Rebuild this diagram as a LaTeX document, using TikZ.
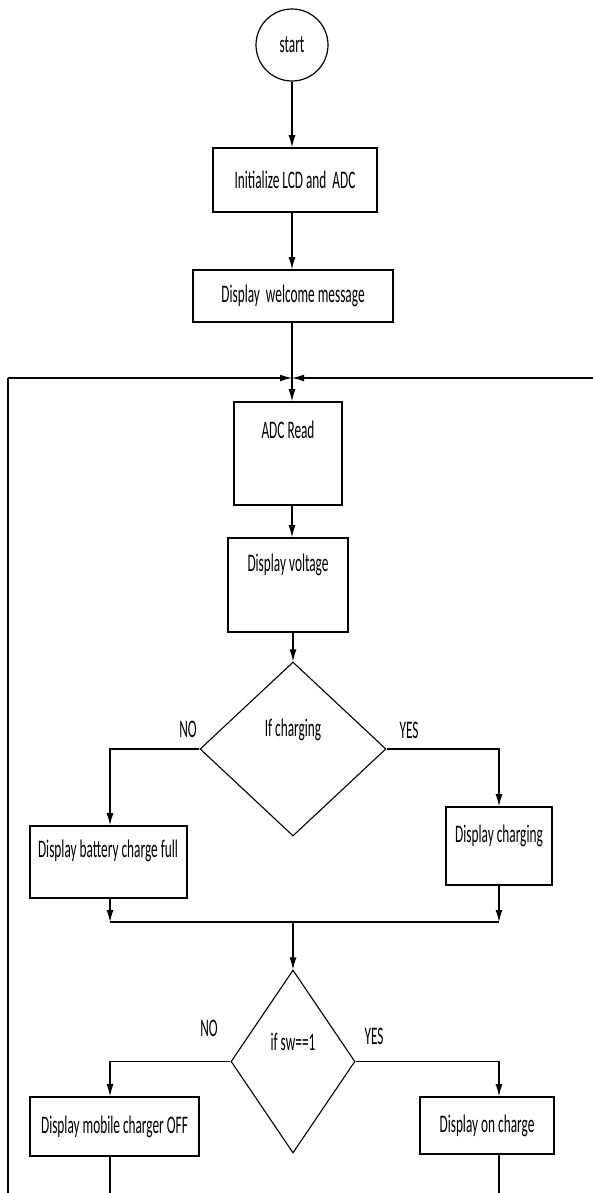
\documentclass[tikz,border=0pt]{standalone}
\usepackage{fontspec}
\setmainfont{Carlito}
\usepackage{graphicx}
\usetikzlibrary{shapes.geometric,arrows.meta}
\newcommand{\lbl}[1]{\scalebox{1}[1.9]{#1}}
\begin{document}
\begin{tikzpicture}[x=1pt,y=-1pt,
  box/.style={draw,line width=1.6pt,rectangle,inner sep=0pt,font=\fontsize{13.3}{16}\selectfont},
  dia/.style={draw,line width=1.1pt,diamond,inner sep=0pt},
  ln/.style={line width=1.2pt},
  arr/.style={line width=1.2pt,-{Latex[length=12pt,width=7pt]}},
  txt/.style={font=\fontsize{13.3}{16}\selectfont,inner sep=0pt}]
\useasboundingbox[fill=white] (0,0) rectangle (593,1193);
% nodes
\node[draw,circle,line width=1.2pt,minimum size=72pt,inner sep=0pt,font=\fontsize{13.3}{16}\selectfont] (start) at (292,45) {\lbl{start}};
\node[box,minimum width=164pt,minimum height=64pt] (init) at (295,180) {\lbl{Initialize LCD and\ \ ADC}};
\node[box,minimum width=200pt,minimum height=52pt] (welcome) at (293,296) {\lbl{Display\ \ welcome message}};
\coordinate (j) at (292,378);
\node[box,minimum width=108pt,minimum height=103pt] (adc) at (288,453.5) {};
\node[txt] (adct) at (288,430) {\lbl{ADC Read}};
\node[box,minimum width=120pt,minimum height=94pt] (volt) at (288,585) {};
\node[txt] (voltt) at (288,565) {\lbl{Display voltage}};
\node[dia,minimum width=186pt,minimum height=174pt] (d1) at (293,749) {};
\node[txt] (d1t) at (293,730) {\lbl{If charging}};
\node[txt] (no1) at (188,729) {\lbl{NO}};
\node[txt] (yes1) at (409,730) {\lbl{YES}};
\node[box,minimum width=157pt,minimum height=72pt] (batt) at (108.5,862) {};
\node[txt] (battt) at (108,851) {\lbl{Display battery charge full}};
\node[box,minimum width=106pt,minimum height=78pt] (chg) at (499,846) {};
\node[txt] (chgt) at (499,836) {\lbl{Display charging}};
\coordinate (ml) at (110,922);
\coordinate (mm) at (293,922);
\coordinate (mr) at (499,922);
\node[dia,minimum width=124pt,minimum height=183pt] (d2) at (293,1061.5) {};
\node[txt] (d2t) at (293,1042) {\lbl{if sw==1}};
\node[txt] (no2) at (209,1028) {\lbl{NO}};
\node[txt] (yes2) at (374,1036) {\lbl{YES}};
\node[box,minimum width=169pt,minimum height=59pt] (off) at (114.5,1126.5) {\lbl{Display mobile charger OFF}};
\node[box,minimum width=134pt,minimum height=57pt] (on) at (487,1125.5) {\lbl{Display on charge}};
\coordinate (lb) at (8,1193);
\coordinate (lt) at (8,378);
\coordinate (rr) at (593,378);
\coordinate (bl) at (110,1193);
\coordinate (br) at (499,1193);
% connectors
\draw[arr] (start.south) -- (start.south |- init.north);
\draw[arr] (init.south -| start) -- (start |- welcome.north);
\draw[arr] (welcome.south -| j) -- (j |- adc.north);
\draw[ln] (lb) -- (lt);
\draw[arr] (lt) -- (j);
\draw[arr] (rr) -- (j);
\draw[arr] (adc.south -| j) -- (j |- volt.north);
\draw[arr] (volt.south -| d1.north) -- (d1.north);
\draw[arr] (d1.west) -| (ml |- batt.north);
\draw[arr] (d1.east) -| (chg.north);
\draw[arr] (ml |- batt.south) -- (ml);
\draw[arr] (chg.south) -- (mr);
\draw[ln] (ml) -- (mr);
\draw[arr] (mm) -- (d2.north);
\draw[arr] (d2.west) -| (ml |- off.north);
\draw[arr] (d2.east) -| (mr |- on.north);
\draw[ln] (ml |- off.south) -- (bl);
\draw[ln] (mr |- on.south) -- (br);
\end{tikzpicture}
\end{document}
